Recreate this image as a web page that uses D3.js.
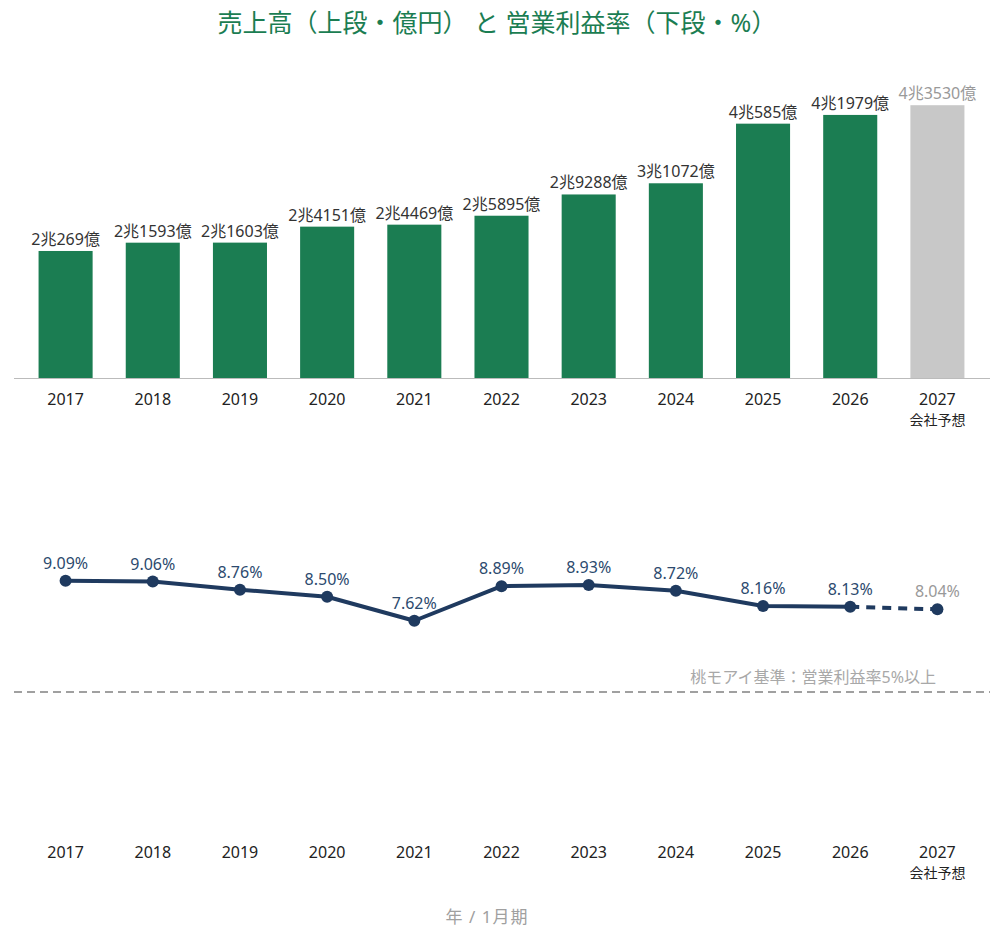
<!DOCTYPE html>
<html>
<head>
<meta charset="utf-8">
<script src="https://cdn.jsdelivr.net/npm/d3@7"></script>
<style>
  body { margin: 0; background: #fff; }
  text { font-family: "Noto Sans", "Noto Sans CJK JP", sans-serif; }
</style>
</head>
<body>
<div id="chart"></div>
<script>
// data
var years = ["2017", "2018", "2019", "2020", "2021", "2022", "2023", "2024", "2025", "2026", "2027"];
var sales = [20269, 21593, 21603, 24151, 24469, 25895, 29288, 31072, 40585, 41979, 43530]; // 億円
var salesLabels = ["2兆269億", "2兆1593億", "2兆1603億", "2兆4151億", "2兆4469億", "2兆5895億",
  "2兆9288億", "3兆1072億", "4兆585億", "4兆1979億", "4兆3530億"];
var margin = [9.09, 9.06, 8.76, 8.50, 7.62, 8.89, 8.93, 8.72, 8.16, 8.13, 8.04]; // %
var forecastYear = "2027";
var threshold = 5;

var width = 1004, height = 942;
var green = "#1b7d52", grey = "#c8c8c8", navy = "#1f3a5f";

var svg = d3.select("#chart").append("svg")
  .attr("width", width).attr("height", height);

// title
svg.append("text")
  .attr("x", 497).attr("y", 32)
  .attr("text-anchor", "middle")
  .attr("font-size", "25px")
  .attr("fill", "#1b7d52")
  .text("売上高（上段・億円） と 営業利益率（下段・%）");

var x = d3.scaleBand().domain(years).range([22, 981])
  .paddingInner(0.38).paddingOuter(0.19);

// ---- upper panel: sales bars
var yBar = d3.scaleLinear().domain([0, 45000]).range([378, 96]);

var bars = svg.append("g");
bars.selectAll("rect")
  .data(years)
  .enter().append("rect")
  .attr("x", function(d) { return x(d); })
  .attr("y", function(d, i) { return yBar(sales[i]); })
  .attr("width", x.bandwidth())
  .attr("height", function(d, i) { return yBar(0) - yBar(sales[i]); })
  .attr("fill", function(d) { return d === forecastYear ? grey : green; });

bars.selectAll("text")
  .data(years)
  .enter().append("text")
  .attr("x", function(d) { return x(d) + x.bandwidth() / 2; })
  .attr("y", function(d, i) { return yBar(sales[i]) - 6; })
  .attr("text-anchor", "middle")
  .attr("font-size", "16px")
  .attr("fill", function(d) { return d === forecastYear ? "#999" : "#333"; })
  .text(function(d, i) { return salesLabels[i]; });

svg.append("line")
  .attr("x1", 14).attr("x2", 990)
  .attr("y1", yBar(0) + 0.5).attr("y2", yBar(0) + 0.5)
  .attr("stroke", "#bbb").attr("stroke-width", 1);

function yearAxis(yPos) {
  var g = svg.append("g")
    .attr("transform", "translate(0," + yPos + ")")
    .call(d3.axisBottom(x).tickSize(0).tickPadding(0));
  g.select(".domain").remove();
  g.selectAll(".tick text")
    .attr("font-size", "16px")
    .attr("fill", "#222")
    .attr("dy", "0")
    .attr("font-family", "\"Noto Sans\", sans-serif");
  g.selectAll(".tick")
    .filter(function(d) { return d === forecastYear; })
    .append("text")
    .attr("y", 20)
    .attr("text-anchor", "middle")
    .attr("font-size", "14px")
    .attr("fill", "#222")
    .text("会社予想");
}
yearAxis(405);

// ---- lower panel: operating margin line
var yLine = d3.scaleLinear().domain([0, 10]).range([828, 556]);
var cx = function(d) { return x(d) + x.bandwidth() / 2; };

var pts = years.map(function(d, i) { return { year: d, v: margin[i] }; });
var actual = pts.filter(function(p) { return p.year !== forecastYear; });
var fc = pts.slice(pts.length - 2);

var line = d3.line()
  .x(function(p) { return cx(p.year); })
  .y(function(p) { return yLine(p.v); });

// threshold line
svg.append("line")
  .attr("x1", 14).attr("x2", 990)
  .attr("y1", yLine(threshold)).attr("y2", yLine(threshold))
  .attr("stroke", "#a0a0a0").attr("stroke-width", 2)
  .attr("stroke-dasharray", "8,5");
svg.append("text")
  .attr("x", 936).attr("y", yLine(threshold) - 9)
  .attr("text-anchor", "end")
  .attr("font-size", "16px")
  .attr("fill", "#a8a8a8")
  .text("桃モアイ基準：営業利益率5%以上");

svg.append("path")
  .datum(actual)
  .attr("d", line)
  .attr("fill", "none")
  .attr("stroke", navy).attr("stroke-width", 4)
  .attr("stroke-linejoin", "round");
svg.append("path")
  .datum(fc)
  .attr("d", line)
  .attr("fill", "none")
  .attr("stroke", navy).attr("stroke-width", 4)
  .attr("stroke-dasharray", "9,7");

svg.selectAll(".dot")
  .data(pts)
  .enter().append("circle")
  .attr("class", "dot")
  .attr("cx", function(p) { return cx(p.year); })
  .attr("cy", function(p) { return yLine(p.v); })
  .attr("r", 6)
  .attr("fill", navy);

svg.selectAll(".mlabel")
  .data(pts)
  .enter().append("text")
  .attr("class", "mlabel")
  .attr("x", function(p) { return cx(p.year); })
  .attr("y", function(p) { return yLine(p.v) - 12; })
  .attr("text-anchor", "middle")
  .attr("font-size", "16px")
  .attr("fill", function(p) { return p.year === forecastYear ? "#999" : "#2c4a6e"; })
  .text(function(p) { return p.v.toFixed(2) + "%"; });

yearAxis(858);

svg.append("text")
  .attr("x", 487).attr("y", 923)
  .attr("text-anchor", "middle")
  .attr("font-size", "17px")
  .attr("letter-spacing", "1px")
  .attr("fill", "#a0a0a0")
  .text("年 / 1月期");
</script>
</body>
</html>
